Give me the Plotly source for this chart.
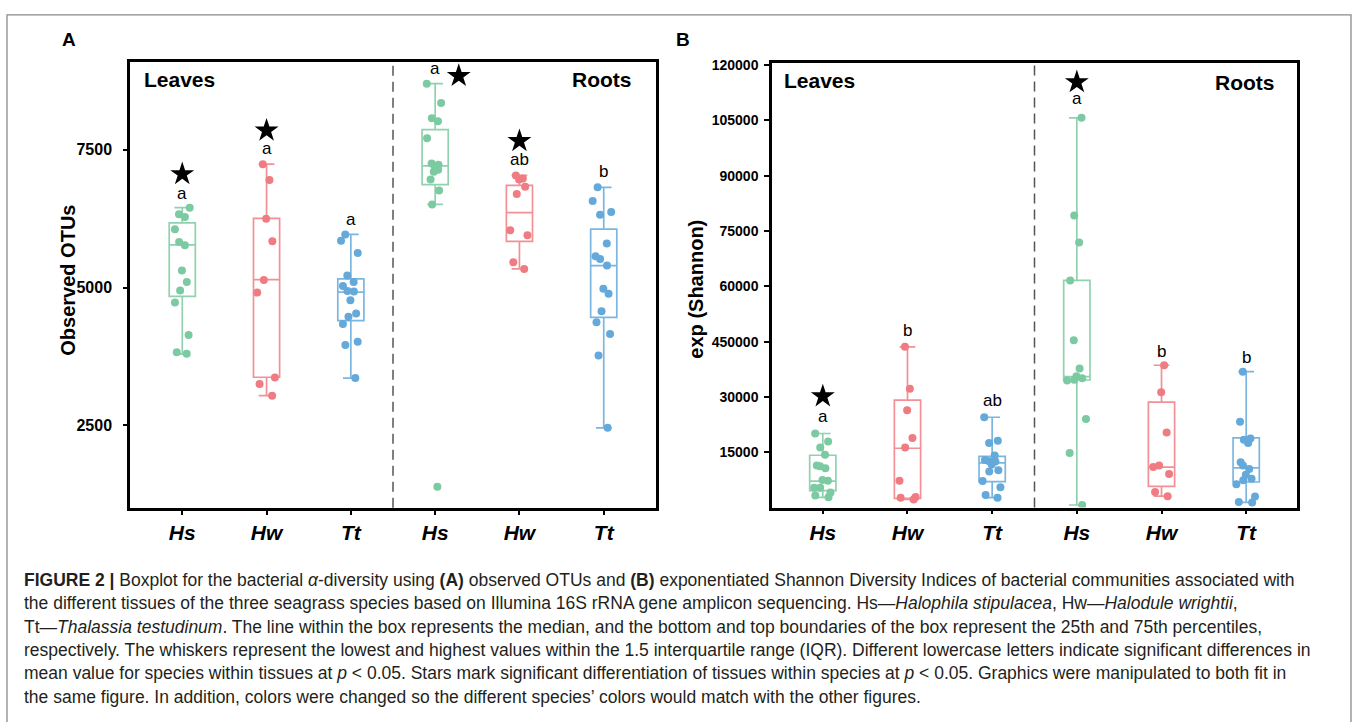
import plotly.graph_objects as go

W, H = 1358, 722

# ---------------- data ----------------
species = ["Hs", "Hw", "Tt", "Hs", "Hw", "Tt"]
colors = ["#7CCAA2", "#F07C83", "#64A9DA", "#7CCAA2", "#F07C83", "#64A9DA"]
box_line_colors = ["rgba(124,202,162,0.85)", "rgba(240,124,131,0.85)", "rgba(100,169,218,0.85)"] * 2

# Panel A: observed OTUs  (Leaves Hs, Hw, Tt | Roots Hs, Hw, Tt)
otu_hs_leaves = [6450, 6330, 6280, 6060, 5830, 5770, 5310, 5100, 4950, 4730, 4140, 3830, 3800]
otu_hw_leaves = [7240, 6950, 6250, 5840, 5140, 4910, 3370, 3250, 3040]
otu_tt_leaves = [5965, 5850, 5630, 5220, 5100, 5030, 4940, 4930, 4770, 4530, 4470, 4340, 4020, 3960, 3360]
otu_hs_roots = [8700, 8350, 8070, 8020, 7710, 7250, 7230, 7200, 7140, 7100, 6960, 6760, 6510, 1390]
otu_hw_roots = [7035, 6980, 6960, 6830, 6700, 6040, 5950, 5460, 5340]
otu_tt_roots = [6820, 6570, 6370, 6320, 5800, 5570, 5520, 5400, 4980, 4890, 4570, 4370, 4160, 3770, 2460]

otu_q1 = [4840, 3375, 4400, 6870, 5840, 4460]
otu_median = [5775, 5145, 4920, 7210, 6360, 5400]
otu_q3 = [6175, 6255, 5160, 7865, 6855, 6060]
otu_lower = [3795, 3040, 3357, 6511, 5342, 2458]
otu_upper = [6451, 7242, 5965, 8699, 7035, 6817]

otu_letters = ["a", "a", "a", "a", "ab", "b"]
otu_letter_y = [6640, 7450, 6170, 8900, 7250, 7030]
otu_star_pos = [0, 1, 3.28, 4]
otu_star_y = [7060, 7850, 8840, 7660]

# Panel B: exp(Shannon)
shan_hs_leaves = [20100, 17900, 16300, 14300, 11400, 11200, 10700, 7500, 7300, 5400, 5400, 4100, 3300, 2800]
shan_hw_leaves = [43600, 32200, 26400, 18850, 16300, 7300, 2900, 2650, 2200]
shan_tt_leaves = [24500, 18100, 17500, 14100, 12900, 12600, 12500, 11700, 10100, 9800, 7200, 5500, 3400, 2700]
shan_hs_roots = [105700, 79200, 71900, 61600, 45400, 37700, 35600, 35100, 34700, 34500, 24000, 14800, 700]
shan_hw_roots = [38600, 31300, 20400, 11400, 11000, 9100, 4250, 3100]
shan_tt_roots = [36850, 23250, 18750, 18400, 17500, 12300, 11400, 10500, 8900, 7850, 7400, 6300, 3000, 1550, 1400]

shan_q1 = [4600, 2500, 7030, 34600, 5780, 6940]
shan_median = [7200, 16100, 12150, 35500, 10970, 10800]
shan_q3 = [14200, 29150, 13900, 61600, 28600, 18900]
shan_lower = [2800, 2200, 2700, 700, 3090, 1400]
shan_upper = [20100, 43600, 24500, 105700, 38600, 36850]

shan_letters = ["a", "b", "ab", "a", "b", "b"]
shan_letter_y = [23600, 46970, 27900, 109840, 41330, 39720]
shan_star_pos = [0, 3]
shan_star_y = [30200, 115400]

shan_tickvals = [15000, 30000, 45000, 60000, 75000, 90000, 105000, 120000]
shan_ticktext = ["15000", "30000", "450000", "60000", "75000", "90000", "105000", "120000"]

caption_lines = [
    "<b>FIGURE 2 |</b> Boxplot for the bacterial <i>α</i>-diversity using <b>(A)</b> observed OTUs and <b>(B)</b> exponentiated Shannon Diversity Indices of bacterial communities associated with",
    "the different tissues of the three seagrass species based on Illumina 16S rRNA gene amplicon sequencing. Hs—<i>Halophila stipulacea</i>, Hw—<i>Halodule wrightii</i>,",
    "Tt—<i>Thalassia testudinum</i>. The line within the box represents the median, and the bottom and top boundaries of the box represent the 25th and 75th percentiles,",
    "respectively. The whiskers represent the lowest and highest values within the 1.5 interquartile range (IQR). Different lowercase letters indicate significant differences in",
    "mean value for species within tissues at <i>p</i> &lt; 0.05. Stars mark significant differentiation of tissues within species at <i>p</i> &lt; 0.05. Graphics were manipulated to both fit in",
    "the same figure. In addition, colors were changed so the different species’ colors would match with the other figures.",
]

# ---------------- layout helpers ----------------
def px_x(x):
    return x / W

def px_y(y):
    return 1 - y / H

FONT = "Liberation Sans, Arial, sans-serif"
fig = go.Figure()

panels = [
    dict(xa="x", ya="y",
         groups=[otu_hs_leaves, otu_hw_leaves, otu_tt_leaves, otu_hs_roots, otu_hw_roots, otu_tt_roots],
         q1=otu_q1, med=otu_median, q3=otu_q3, lo=otu_lower, hi=otu_upper,
         letters=otu_letters, letter_y=otu_letter_y, star_pos=otu_star_pos, star_y=otu_star_y),
    dict(xa="x2", ya="y2",
         groups=[shan_hs_leaves, shan_hw_leaves, shan_tt_leaves, shan_hs_roots, shan_hw_roots, shan_tt_roots],
         q1=shan_q1, med=shan_median, q3=shan_q3, lo=shan_lower, hi=shan_upper,
         letters=shan_letters, letter_y=shan_letter_y, star_pos=shan_star_pos, star_y=shan_star_y),
]

BOXW = 0.31
for p in panels:
    for i, vals in enumerate(p["groups"]):
        fig.add_trace(go.Box(
            x=[i], q1=[p["q1"][i]], median=[p["med"][i]], q3=[p["q3"][i]],
            lowerfence=[p["lo"][i]], upperfence=[p["hi"][i]],
            width=BOXW, whiskerwidth=0.6, boxpoints=False,
            line=dict(color=box_line_colors[i], width=1.7),
            fillcolor="rgba(255,255,255,0)",
            xaxis=p["xa"], yaxis=p["ya"], showlegend=False, hoverinfo="skip"))
        fig.add_trace(go.Box(
            x=[i] * len(vals), y=vals, boxpoints="all", jitter=0.9, pointpos=0,
            width=BOXW, whiskerwidth=0,
            line=dict(color="rgba(0,0,0,0)", width=0),
            fillcolor="rgba(0,0,0,0)",
            marker=dict(color=colors[i], size=8, opacity=1),
            xaxis=p["xa"], yaxis=p["ya"], showlegend=False))
    fig.add_trace(go.Scatter(
        x=p["star_pos"], y=p["star_y"], mode="markers",
        marker=dict(symbol="star", size=18, color="black", line=dict(width=0)),
        xaxis=p["xa"], yaxis=p["ya"], showlegend=False, hoverinfo="skip"))
    xr = p["xa"]
    yr = p["ya"]
    for i, (t, yv) in enumerate(zip(p["letters"], p["letter_y"])):
        fig.add_annotation(x=i, y=yv, xref=xr, yref=yr, text=t, showarrow=False,
                           font=dict(family=FONT, size=17, color="black"),
                           xanchor="center", yanchor="middle", yshift=4)
    fig.add_shape(type="line", xref=xr, x0=2.5, x1=2.5, yref=yr + " domain", y0=0, y1=1,
                  line=dict(color="#555555", width=1.5, dash="10px,6px"))

axis_common = dict(showline=True, mirror=True, linecolor="black", linewidth=2.5,
                   ticks="outside", tickcolor="black", tickwidth=1.5,
                   showgrid=False, zeroline=False)

fig.update_layout(
    width=W, height=H,
    margin=dict(l=0, r=0, t=0, b=0),
    paper_bgcolor="white", plot_bgcolor="white",
    boxmode="overlay",
    showlegend=False,
    xaxis=dict(domain=[px_x(130), px_x(656)], range=[-0.62, 5.62],
               tickvals=list(range(6)), ticktext=[f"<b><i>{s}</i></b>" for s in species],
               tickfont=dict(family=FONT, size=21, color="black"), ticklen=4,
               anchor="y", **axis_common),
    yaxis=dict(domain=[px_y(506), px_y(56)], range=[1007, 9101],
               tickvals=[2500, 5000, 7500], ticktext=["<b>2500</b>", "<b>5000</b>", "<b>7500</b>"],
               tickfont=dict(family=FONT, size=16, color="black"), ticklen=4,
               ticklabelstandoff=8, anchor="x", **axis_common),
    xaxis2=dict(domain=[px_x(772), px_x(1297)], range=[-0.6, 5.6],
                tickvals=list(range(6)), ticktext=[f"<b><i>{s}</i></b>" for s in species],
                tickfont=dict(family=FONT, size=21, color="black"), ticklen=4,
                anchor="y2", **axis_common),
    yaxis2=dict(domain=[px_y(505.8), px_y(57)], range=[0, 120700],
                tickvals=shan_tickvals, ticktext=[f"<b>{t}</b>" for t in shan_ticktext],
                tickfont=dict(family=FONT, size=14, color="black"), ticklen=5,
                ticklabelstandoff=3, anchor="x2", **axis_common),
)

def txt(x, y, s, size, xanchor="center", angle=0, color="black", yshift=0):
    fig.add_annotation(x=px_x(x), y=px_y(y), xref="paper", yref="paper", text=s,
                       showarrow=False, textangle=angle, xanchor=xanchor, yanchor="middle",
                       yshift=yshift, font=dict(family=FONT, size=size, color=color))

# panel letters, facet labels, axis titles
txt(69, 38, "<b>A</b>", 19, yshift=4)
txt(683, 38, "<b>B</b>", 19, yshift=4)
txt(142, 78, "<b>Leaves</b>", 21, xanchor="left", yshift=4)
txt(634, 78, "<b>Roots</b>", 21, xanchor="right", yshift=4)
txt(782, 79, "<b>Leaves</b>", 21, xanchor="left", yshift=4)
txt(1277, 81, "<b>Roots</b>", 21, xanchor="right", yshift=4)
txt(68, 277, "<b>Observed OTUs</b>", 20, angle=-90)
txt(696, 285, "<b>exp (Shannon)</b>", 20, angle=-90)

# caption
cap_y = [579, 602.5, 626, 649.5, 673, 696.5]
for line, yy in zip(caption_lines, cap_y):
    txt(22, yy, line, 17.5, xanchor="left", color="#231F20")

# outer frame
fig.add_shape(type="rect", xref="paper", yref="paper",
              x0=px_x(7), x1=px_x(1351), y0=-0.05, y1=px_y(9),
              line=dict(color="#8a8a8a", width=1.3), fillcolor="rgba(0,0,0,0)", layer="below")

fig.write_html("out.html")
